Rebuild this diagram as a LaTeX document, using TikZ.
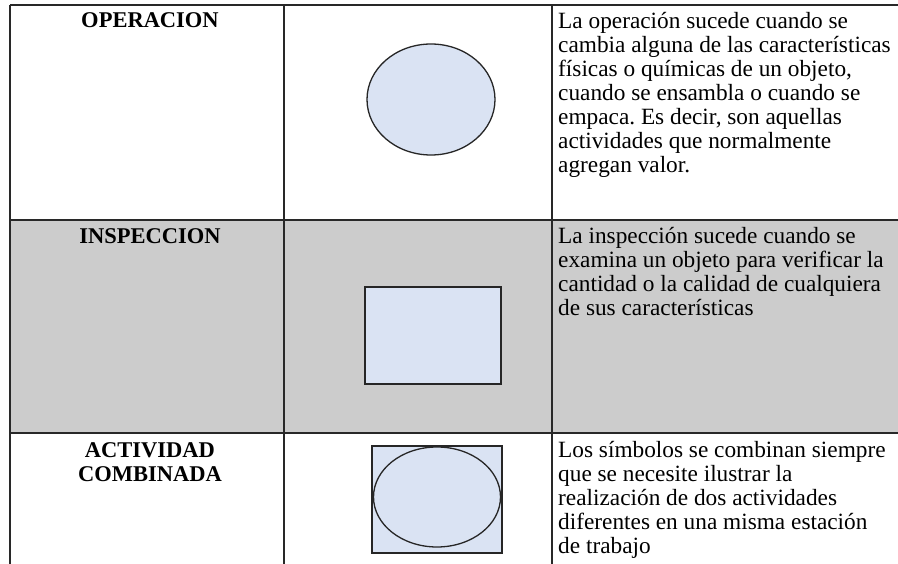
\documentclass[tikz,border=0pt]{standalone}
\usepackage{fontspec}
\setmainfont{Liberation Serif}
\usetikzlibrary{shapes.geometric}
\frenchspacing
\definecolor{rowgray}{RGB}{204,204,204}
\definecolor{shapefill}{RGB}{218,227,243}
\definecolor{gridline}{RGB}{40,40,40}
\tikzset{
  grid/.style={draw=gridline, line width=1.3pt},
  sepline/.style={draw=gridline, line width=2pt},
  symshape/.style={draw=black!85, line width=1.3pt, fill=shapefill, inner sep=0pt, outer sep=0pt},
  headtxt/.style={font=\fontsize{22.5}{24}\selectfont\bfseries, align=center, inner sep=0pt, anchor=base},
  desctxt/.style={font=\fontsize{23.3}{24}\selectfont, align=left, inner sep=0pt, anchor=base west},
}
\begin{document}
\begin{tikzpicture}[x=1pt,y=-1pt]
\useasboundingbox (0,0) rectangle (898,564);
\clip (0,0) rectangle (898,564);
% background
\fill[white] (0,0) rectangle (898,564);
\fill[rowgray] (10,220) rectangle (900,433);
% grid
\draw[grid] (10,5) -- (900,5);
\draw[grid] (10,5) -- (10,570);
\draw[grid] (284,5) -- (284,570);
\draw[grid] (552,5) -- (552,570);
\draw[sepline] (10,220) -- (900,220);
\draw[sepline] (10,433) -- (900,433);
% headers (anchor = baseline of last line)
\node[headtxt] (hop) at (150,28) {OPERACION};
\node[headtxt] (hin) at (150,244) {INSPECCION};
\node[headtxt] (hac) at (150,481) {ACTIVIDAD\\COMBINADA};
% symbols
\node[symshape, ellipse, minimum width=128pt, minimum height=111pt] (op) at (431,99.5) {};
\node[symshape, rectangle, minimum width=136pt, minimum height=97pt] (insp) at (433,335.5) {};
\node[symshape, rectangle, minimum width=130pt, minimum height=107pt] (combr) at (437,499.5) {};
\node[draw=black!85, line width=1.3pt, ellipse, inner sep=0pt, minimum width=127pt, minimum height=100pt] (combe) at (437,497) {};
% descriptions (anchor = baseline of last line)
\node[desctxt] (dop) at (558,173) {La operación sucede cuando se\\cambia alguna de las características\\físicas o químicas de un objeto,\\cuando se ensambla o cuando se\\empaca. Es decir, son aquellas\\actividades que normalmente\\agregan valor.};
\node[desctxt] (din) at (558,316) {La inspección sucede cuando se\\examina un objeto para verificar la\\cantidad o la calidad de cualquiera\\de sus características};
\node[desctxt] (dac) at (558,553) {Los símbolos se combinan siempre\\que se necesite ilustrar la\\realización de dos actividades\\diferentes en una misma estación\\de trabajo};
\end{tikzpicture}
\end{document}
